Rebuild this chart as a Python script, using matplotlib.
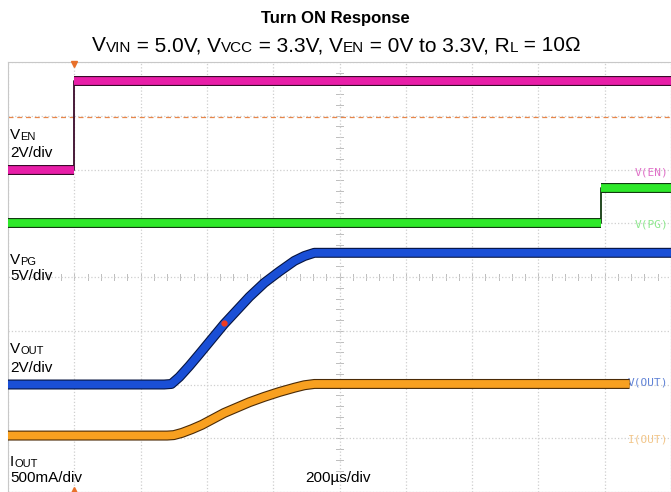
import matplotlib
matplotlib.use("Agg")
import matplotlib.pyplot as plt
import matplotlib.patheffects as pe
import numpy as np

plt.rcParams['font.family'] = ['Liberation Sans', 'DejaVu Sans']

# time axis in microseconds, trigger at t = 0, 200 us/div
t_min, t_max = -200, 1800
us_per_div = 200

# V(EN): 2 V/div, offset 6 div
en_t = [-200, 0, 0, 1800]
en_v = [0.0, 0.0, 3.3, 3.3]

# V(PG): 5 V/div, offset 5 div
pg_t = [-200, 1590, 1590, 1800]
pg_v = [0.0, 0.0, 3.3, 3.3]

# V(OUT): 2 V/div, offset 2 div
vout_t = [-200, 271, 293, 317, 347, 377, 452, 528, 573, 618, 664, 694, 724, 1800]
vout_v = [0.0, 0.0, 0.02, 0.28, 0.69, 1.13, 2.25, 3.26, 3.78, 4.2, 4.6, 4.78, 4.9, 4.9]

# I(OUT): 500 mA/div, offset 1.05 div
iout_t = [-200, 280, 300, 325, 355, 385, 452, 528, 573, 618, 664, 694, 724, 1675]
iout_a = [0.0, 0.0, 0.004, 0.025, 0.06, 0.1, 0.21, 0.31, 0.36, 0.405, 0.445, 0.468, 0.48, 0.48]

cursor_t, cursor_v = 452, 2.3

channels = [
    # t, values, scale, offset, color, edge
    (en_t, en_v, 2.0, 6.0, '#e81ea8', '#3a0a2a'),
    (pg_t, pg_v, 5.0, 5.0, '#2ee82a', '#123a10'),
    (vout_t, vout_v, 2.0, 2.0, '#1a4fd6', '#061440'),
    (iout_t, iout_a, 0.5, 1.05, '#f8a020', '#4a2a06'),
]

W, H = 671, 492
fig = plt.figure(figsize=(W / 100, H / 100), dpi=100)
ax = fig.add_axes([8 / W, 0, 663 / W, 430 / H])

ax.set_xlim(t_min, t_max)
ax.set_ylim(0, 8)

# graticule
ax.set_xticks(np.arange(t_min, t_max + 1, us_per_div))
ax.set_yticks(np.arange(0, 9, 1))
ax.tick_params(length=0, labelbottom=False, labelleft=False)
ax.grid(True, color='#cfcfcf', linestyle=':', linewidth=0.9)
for s in ax.spines.values():
    s.set_color('#c8c8c8')
    s.set_linewidth(0.8)

# minor ticks on the centre cross
t_c = (t_min + t_max) / 2
for x in np.arange(t_min, t_max, us_per_div / 5):
    ax.plot([x, x], [3.94, 4.06], color='#bdbdbd', lw=0.7, zorder=1)
for y in np.arange(0, 8, 0.2):
    ax.plot([t_c - 10, t_c + 10], [y, y], color='#bdbdbd', lw=0.7, zorder=1)

# trigger level and markers
ax.axhline(6.98, color='#e8874a', ls=(0, (4, 3)), lw=0.9, zorder=2)
ax.plot(0, 7.97, marker='v', color='#e8702a', ms=4, clip_on=False, zorder=5)
ax.plot(0, 0.03, marker='^', color='#e8702a', ms=4, clip_on=False, zorder=5)

for t, v, scale, off, col, edge in channels:
    t = np.array(t, float)
    y = off + np.array(v) / scale
    # fast edges are drawn thin, settled parts as a wide noisy band
    ax.plot(t, y, color=edge, lw=1.3, zorder=3)
    cuts = [0] + [i + 1 for i in range(len(t) - 1) if t[i] == t[i + 1]] + [len(t)]
    for a, b in zip(cuts[:-1], cuts[1:]):
        ax.plot(t[a:b], y[a:b], color=col, lw=5.6, solid_capstyle='butt',
                solid_joinstyle='round', zorder=4,
                path_effects=[pe.Stroke(linewidth=7.2, foreground=edge), pe.Normal()])

ax.plot(cursor_t, 2.0 + cursor_v / 2.0, 'o', color='#f03a20', ms=3.5, zorder=6)

# channel tags at right
tag_kw = dict(ha='right', va='center', fontsize=8, family='DejaVu Sans Mono')
ax.text(1792, 5.95, 'V(EN)', color='#e070c8', **tag_kw)
ax.text(1792, 4.97, 'V(PG)', color='#8ee88e', **tag_kw)
ax.text(1792, 2.03, 'V(OUT)', color='#5f82d6', **tag_kw)
ax.text(1792, 0.97, 'I(OUT)', color='#f2c68a', **tag_kw)


def rich(x_px, base_px, pieces, ha='left'):
    """Write text pieces (text, size, drop_px) side by side from a pixel baseline."""
    r = fig.canvas.get_renderer()
    objs = []
    for s, size, drop in pieces:
        objs.append(fig.text(0, 1 - (base_px + drop) / H, s, fontsize=size,
                             va='baseline', ha='left'))
    widths = [o.get_window_extent(r).width for o in objs]
    x = x_px - (sum(widths) / 2 if ha == 'center' else 0)
    for o, w in zip(objs, widths):
        o.set_x(x / W)
        x += w


# scale labels at left
big, small = 11, 8
rich(10, 139, [('V', big, 0), ('EN', small, 1)])
rich(10, 157, [('2V/div', big, 0)])
rich(10, 264, [('V', big, 0), ('PG', small, 1)])
rich(10, 280, [('5V/div', big, 0)])
rich(10, 353, [('V', big, 0), ('OUT', small, 1)])
rich(10, 372, [('2V/div', big, 0)])
rich(10, 466, [('I', big, 0), ('OUT', small, 1)])
rich(10, 482, [('500mA/div', big, 0)])
rich(305, 482, [('200\u00b5s/div', big, 0)])

fig.text(0.5, 1 - 18 / H, 'Turn ON Response', ha='center', va='center',
         fontsize=12, fontweight='bold')
m, s = 15, 11
rich(W / 2 + 1, 51, [('V', m, 0), ('VIN', s, 1), (' = 5.0V, V', m, 0), ('VCC', s, 1),
                     (' = 3.3V, V', m, 0), ('EN', s, 1), (' = 0V to 3.3V, R', m, 0),
                     ('L', s, 1), (' = 10\u03a9', m, 0)], ha='center')

fig.savefig('out.png', dpi=100)
